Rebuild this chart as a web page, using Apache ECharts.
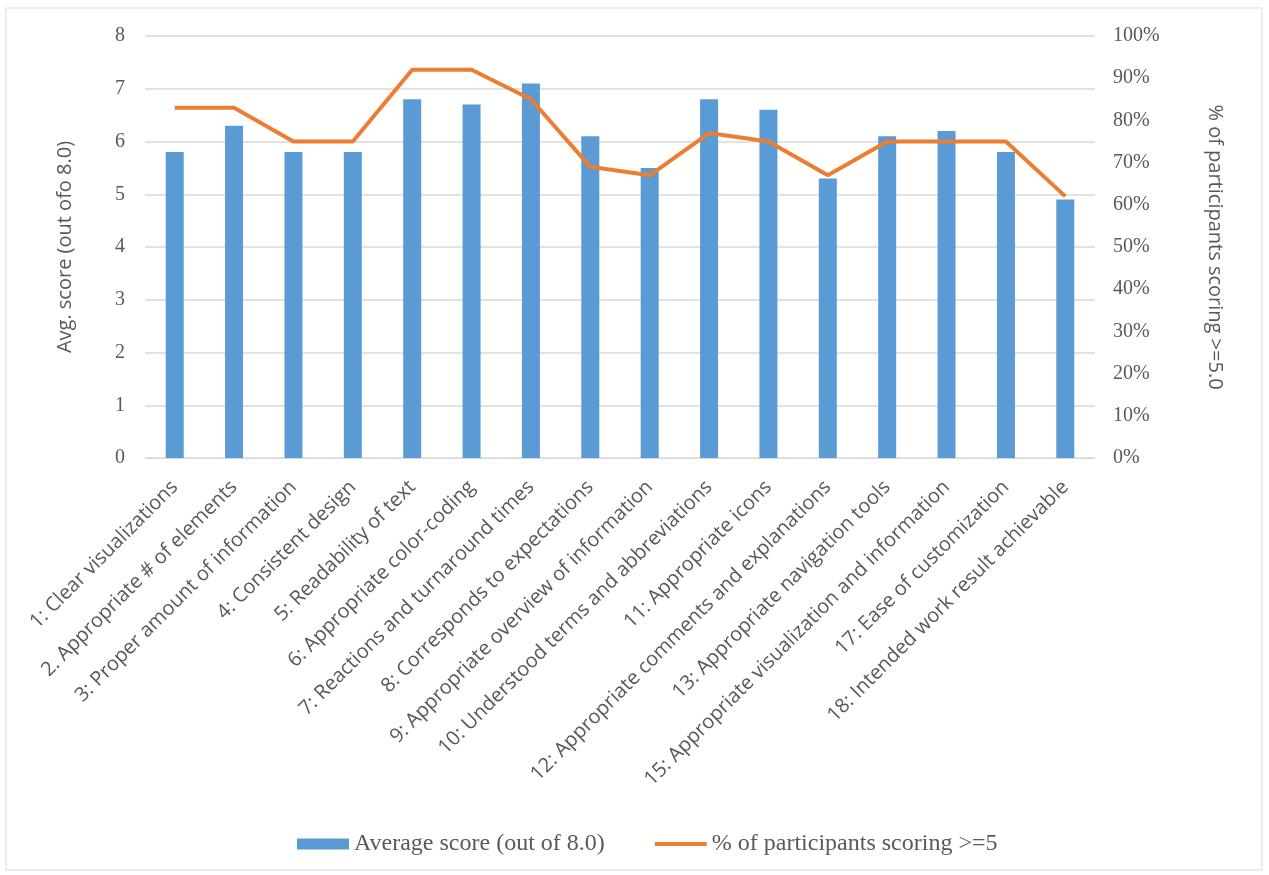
<!DOCTYPE html>
<html>
<head>
<meta charset="utf-8">
<script src="https://cdn.jsdelivr.net/npm/echarts@6/dist/echarts.min.js"></script>
<style>
  html, body { margin: 0; padding: 0; background: #fff; }
  #chart { width: 1269px; height: 875px; }
</style>
</head>
<body>
<div id="chart"></div>
<script>
// categories and values
var categories = [
  '1: Clear visualizations',
  '2. Appropriate # of elements',
  '3: Proper amount of information',
  '4: Consistent design',
  '5: Readability of text',
  '6: Appropriate color-coding',
  '7: Reactions and turnaround times',
  '8: Corresponds to expectations',
  '9: Appropriate overview of information',
  '10: Understood terms and abbreviations',
  '11: Appropriate icons',
  '12: Appropriate comments and explanations',
  '13: Appropriate navigation tools',
  '15: Appropriate visualization and information',
  '17: Ease of customization',
  '18: Intended work result achievable'
];
var avgScore = [5.8, 6.3, 5.8, 5.8, 6.8, 6.7, 7.1, 6.1, 5.5, 6.8, 6.6, 5.3, 6.1, 6.2, 5.8, 4.9];
var pctScoring = [83, 83, 75, 75, 92, 92, 85, 69, 67, 77, 75, 67, 75, 75, 75, 62];

var leftTicks = [0, 8, 1];     // min, max, interval
var rightTicks = [0, 100, 10];

var serif = '"Liberation Serif", "Times New Roman", serif';
var sans = '"Open Sans", "Noto Sans", sans-serif';
var grey = '#595959';

var myChart = echarts.init(document.getElementById('chart'));

var option = {
  backgroundColor: '#fff',
  animation: false,
  graphic: [{
    type: 'rect',
    shape: { x: 6, y: 8, width: 1256, height: 862 },
    style: { fill: 'none', stroke: '#d9d9d9', lineWidth: 1 }
  }],
  legend: {
    top: 827,
    left: 292,
    itemGap: 50,
    itemWidth: 52,
    itemHeight: 11,
    textStyle: { fontFamily: serif, fontSize: 24, color: grey },
    data: [
      { name: 'Average score (out of 8.0)', icon: 'rect' },
      { name: '% of participants scoring >=5', icon: 'path://M0,0 L52,0 L52,4 L0,4 Z' }
    ]
  },
  grid: { left: 145, right: 174, top: 36, bottom: 417 },
  xAxis: [{
    type: 'category',
    data: categories,
    axisTick: { show: false },
    axisLine: { lineStyle: { color: '#d9d9d9', width: 1 } },
    axisLabel: {
      rotate: 45,
      interval: 0,
      margin: 26,
      fontFamily: sans,
      fontSize: 20,
      color: grey
    }
  }],
  yAxis: [{
    type: 'value',
    min: leftTicks[0],
    max: leftTicks[1],
    interval: leftTicks[2],
    name: 'Avg. score (out ofo 8.0)',
    nameLocation: 'middle',
    nameGap: 70,
    nameTextStyle: { fontFamily: sans, fontSize: 20, color: grey },
    axisLine: { show: false },
    axisTick: { show: false },
    splitLine: { lineStyle: { color: '#d9d9d9', width: 1.5 } },
    axisLabel: { margin: 20, fontFamily: serif, fontSize: 20, color: grey }
  }, {
    type: 'value',
    min: rightTicks[0],
    max: rightTicks[1],
    interval: rightTicks[2],
    name: '% of participants scoring >=5.0',
    nameLocation: 'middle',
    nameGap: 110,
    nameRotate: -90,
    nameTextStyle: { fontFamily: sans, fontSize: 20, color: grey },
    axisLine: { show: false },
    axisTick: { show: false },
    splitLine: { show: false },
    axisLabel: { margin: 18, formatter: '{value}%', fontFamily: serif, fontSize: 20, color: grey }
  }],
  series: [{
    name: 'Average score (out of 8.0)',
    type: 'bar',
    data: avgScore,
    barWidth: 18,
    itemStyle: { color: '#5b9bd5' }
  }, {
    name: '% of participants scoring >=5',
    type: 'line',
    yAxisIndex: 1,
    data: pctScoring,
    symbol: 'none',
    lineStyle: { color: '#ed7d31', width: 4 },
    itemStyle: { color: '#ed7d31' }
  }]
};
myChart.setOption(option);
</script>
</body>
</html>
